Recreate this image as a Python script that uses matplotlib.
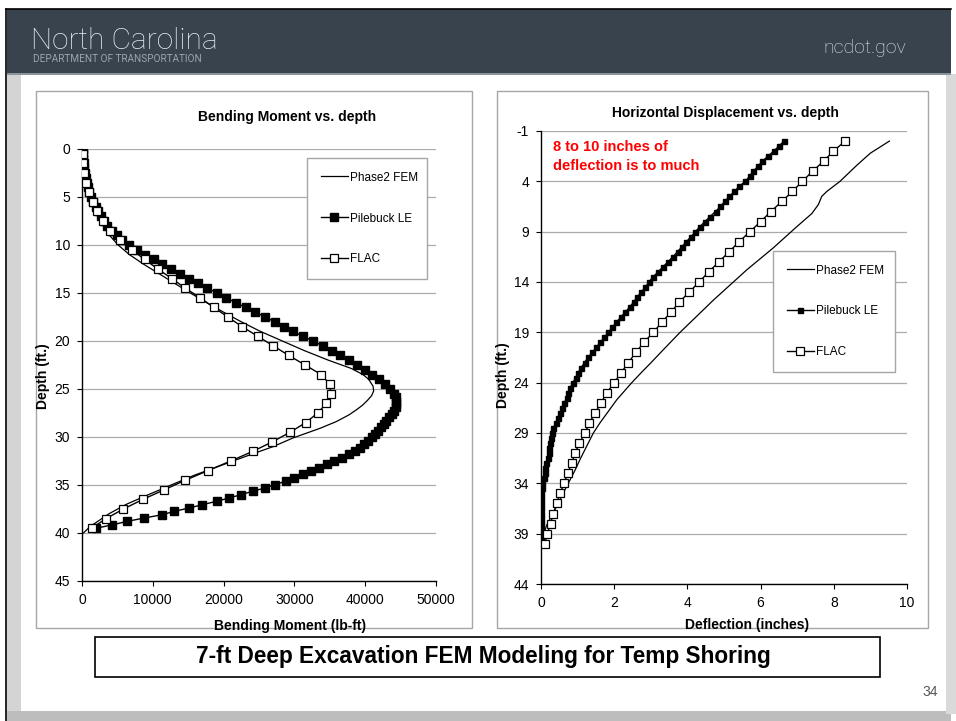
import matplotlib
matplotlib.use("Agg")
import matplotlib.pyplot as plt
from matplotlib.patches import Rectangle
from matplotlib.lines import Line2D
from matplotlib import font_manager

W, H = 956, 721

plt.rcParams["font.family"] = ["Liberation Sans", "DejaVu Sans"]
plt.rcParams["axes.unicode_minus"] = False

# ---- Bending moment vs depth (left chart) ----
PB_DEPTH_L = [0.0, 0.5, 1.0, 1.5, 2.0, 2.5, 3.0, 3.5, 4.0, 4.5, 5.0, 5.5, 6.0, 6.5, 7.0, 7.5,
              8.0, 8.5, 9.0, 9.5, 10.0, 10.5, 11.0, 11.5, 12.0, 12.5, 13.0, 13.5, 14.0, 14.5,
              15.0, 15.5, 16.0, 16.5, 17.0, 17.5, 18.0, 18.5, 19.0, 19.5, 20.0, 20.5, 21.0,
              21.5, 22.0, 22.5, 23.0, 23.5, 24.0, 24.5, 25.0, 25.5, 25.85, 26.2, 26.55, 26.9,
              27.25, 27.6, 27.95, 28.3, 28.65, 29.0, 29.35, 29.7, 30.05, 30.4, 30.75, 31.1,
              31.45, 31.8, 32.15, 32.5, 32.85, 33.2, 33.55, 33.9, 34.25, 34.6, 34.95, 35.3,
              35.65, 36.0, 36.35, 36.7, 37.05, 37.4, 37.75, 38.1, 38.45, 38.8, 39.15, 39.5]
PB_MOM_L = [150, 150, 200, 250, 300, 400, 500, 650, 800, 1000, 1300, 1600, 1950, 2300, 2650,
            3050, 3600, 4200, 4900, 5700, 6700, 7800, 8900, 10100, 11300, 12600, 13900, 15100,
            16400, 17700, 19100, 20400, 21700, 23100, 24500, 25900, 27200, 28500, 29800, 31200,
            32600, 34000, 35300, 36500, 37700, 38900, 40000, 41000, 41900, 42800, 43500, 44000,
            44300, 44400, 44400, 44300, 44100, 43800, 43400, 43000, 42600, 42200, 41800, 41400,
            40900, 40400, 39800, 39200, 38500, 37700, 36700, 35600, 34600, 33500, 32400, 31200,
            29900, 28800, 27300, 25900, 24100, 22500, 20800, 19000, 17000, 15100, 13000, 11300,
            8700, 6300, 4300, 2000]

FLAC_DEPTH_L = [0.5, 1.5, 2.5, 3.5, 4.5, 5.5, 6.5, 7.5, 8.5, 9.5, 10.5, 11.5, 12.5, 13.5,
                14.5, 15.5, 16.5, 17.5, 18.5, 19.5, 20.5, 21.5, 22.5, 23.5, 24.5, 25.5, 26.5,
                27.5, 28.5, 29.5, 30.5, 31.5, 32.5, 33.5, 34.5, 35.5, 36.5, 37.5, 38.5, 39.5]
FLAC_MOM_L = [100, 100, 280, 560, 950, 1500, 2070, 2920, 3950, 5370, 7020, 8850, 10700, 12700,
              14600, 16700, 18600, 20600, 22600, 24800, 27000, 29200, 31500, 33800, 35000,
              35150, 34500, 33300, 31600, 29400, 26900, 24100, 21000, 17800, 14600, 11600,
              8600, 5850, 3400, 1370]

PH_DEPTH_L = [0, 2, 4, 5, 6, 7, 8, 9, 10, 11, 12, 13, 14, 15, 16, 17, 18, 19, 20, 21, 22,
              22.85, 23.5, 24, 24.7, 25.2, 25.7, 26.2, 26.7, 27.2, 27.7, 28.4, 29.1, 30.1, 31,
              32, 33, 34, 35, 36, 37, 38, 38.5, 39, 39.5, 40]
PH_MOM_L = [0, 100, 400, 800, 1500, 2200, 3000, 3900, 5100, 6700, 8700, 10900, 13100, 15300,
            17600, 20000, 22500, 25200, 28300, 31400, 34800, 38000, 39700, 40500, 41100, 41200,
            40900, 40300, 39600, 38700, 37700, 35900, 33600, 29800, 27000, 23200, 19500, 15800,
            12600, 9400, 6300, 3800, 2800, 1800, 900, 200]

# ---- Horizontal displacement vs depth (right chart) ----
PB_DEPTH_R = [0.0, 0.5, 1.0, 1.5, 2.0, 2.5, 3.0, 3.5, 4.0, 4.5, 5.0, 5.5, 6.0, 6.5, 7.0, 7.5,
              8.0, 8.5, 9.0, 9.5, 10.0, 10.5, 11.0, 11.5, 12.0, 12.5, 13.0, 13.5, 14.0, 14.5,
              15.0, 15.5, 16.0, 16.5, 17.0, 17.5, 18.0, 18.5, 19.0, 19.5, 20.0, 20.5, 21.0,
              21.5, 22.0, 22.5, 23.0, 23.5, 24.0, 24.5, 25.0, 25.5, 26.0, 26.5, 27.0, 27.5,
              28.0, 28.5, 29.0, 29.5, 30.0, 30.5, 31.0, 31.5, 32.0, 32.5, 33.0, 33.5, 34.0,
              34.5, 35.0, 35.5, 36.0, 36.5, 37.0, 37.5, 38.0, 38.5, 39.0, 39.5]
PB_DEF_R = [6.64, 6.50, 6.36, 6.20, 6.05, 5.93, 5.80, 5.70, 5.58, 5.42, 5.28, 5.15, 5.02, 4.90,
            4.77, 4.62, 4.48, 4.34, 4.22, 4.10, 3.97, 3.85, 3.73, 3.60, 3.47, 3.33, 3.20, 3.06,
            2.95, 2.85, 2.74, 2.63, 2.53, 2.42, 2.30, 2.18, 2.06, 1.95, 1.84, 1.73, 1.62, 1.51,
            1.40, 1.29, 1.19, 1.10, 1.02, 0.95, 0.87, 0.80, 0.75, 0.70, 0.64, 0.58, 0.52, 0.47,
            0.40, 0.34, 0.29, 0.27, 0.25, 0.23, 0.21, 0.19, 0.15, 0.12, 0.10, 0.08, 0.03, 0.02,
            0.0, 0.0, 0.0, 0.0, 0.0, 0.0, 0.0, 0.0, 0.0, 0.0]

FLAC_DEPTH_R = [0, 1, 2, 3, 4, 5, 6, 7, 8, 9, 10, 11, 12, 13, 14, 15, 16, 17, 18, 19, 20,
                21, 22, 23, 24, 25, 26, 27, 28, 29, 30, 31, 32, 33, 34, 35, 36, 37, 38, 39, 40]
FLAC_DEF_R = [8.31, 7.99, 7.72, 7.42, 7.14, 6.87, 6.58, 6.28, 6.00, 5.71, 5.41, 5.14, 4.86,
              4.58, 4.32, 4.05, 3.78, 3.55, 3.30, 3.07, 2.81, 2.59, 2.39, 2.19, 2.00, 1.80,
              1.64, 1.48, 1.32, 1.20, 1.05, 0.93, 0.84, 0.73, 0.63, 0.52, 0.43, 0.34, 0.26,
              0.17, 0.11]

PH_DEPTH_R = [0, 1.2, 2.4, 4.0, 5.0, 5.5, 6.3, 7.2, 8.5, 10.6, 12.8, 15.8, 19.0, 21.0, 22.0,
              23.0, 24.0, 25.7, 28.0, 29.0, 30.3, 31.6, 32.7, 34.6, 36.6, 38.2, 39.9]
PH_DEF_R = [9.52, 9.00, 8.63, 8.17, 7.81, 7.67, 7.58, 7.40, 6.99, 6.35, 5.62, 4.71, 3.80,
            3.27, 3.01, 2.74, 2.48, 2.07, 1.61, 1.43, 1.25, 1.07, 0.93, 0.66, 0.38, 0.15, 0.0]

SERIES_NAMES = ["Phase2 FEM", "Pilebuck LE", "FLAC"]

GRID = "#ababab"
BOX = "#a6a6a6"
HEADER = "#38434e"


def fx(px):
    return px / W


def fy(py):
    return 1 - py / H


names = {f.name for f in font_manager.fontManager.ttflist}
narrow = "Liberation Sans Narrow" if "Liberation Sans Narrow" in names else "Liberation Sans"
thin = "Roboto" if "Roboto" in names else "DejaVu Sans"
cap_size = 18.5 if narrow == "Liberation Sans Narrow" else 16.3

fig = plt.figure(figsize=(W / 100, H / 100), dpi=100, facecolor="white")

# slide decoration in pixel coordinates
bg = fig.add_axes([0, 0, 1, 1], zorder=-5)
bg.set_xlim(0, W)
bg.set_ylim(H, 0)
bg.axis("off")
bg.add_patch(Rectangle((7, 74), 14, 640, color="#d4d4d4", lw=0))
bg.add_patch(Rectangle((7, 711), 944, 10, color="#bdbdbd", lw=0))
bg.add_patch(Rectangle((946, 74), 10, 640, color="#dadada", lw=0))
bg.add_patch(Rectangle((21, 75), 925, 636, color="white", lw=0))
bg.add_patch(Rectangle((7, 9), 944, 65, color=HEADER, lw=0))
bg.add_patch(Rectangle((7, 73), 944, 2, color="#8a949c", lw=0))
bg.plot([6.5, 6.5], [9, 721], color="black", lw=1.2)
bg.plot([6.5, 951], [9, 9], color="black", lw=1.2)
bg.add_patch(Rectangle((36, 91), 436, 537, fill=False, ec=BOX, lw=1))
bg.add_patch(Rectangle((497, 91), 431, 537, fill=False, ec=BOX, lw=1))
bg.add_patch(Rectangle((95, 637), 785, 40, fill=False, ec="black", lw=1.2))

fig.text(fx(31), fy(49), "North Carolina", fontsize=21.5, color="#e4e8eb",
         family=thin, weight="light", va="baseline")
fig.text(fx(33), fy(62), "DEPARTMENT OF TRANSPORTATION", fontsize=7.2, color="#9ba5ae",
         family=thin, va="baseline")
fig.text(fx(906), fy(53), "ncdot.gov", fontsize=14, color="#e4e8eb",
         family=thin, weight="light", va="baseline", ha="right")
fig.text(fx(483), fy(657), "7-ft Deep Excavation FEM Modeling for Temp Shoring",
         fontsize=cap_size, weight="bold", family=narrow, ha="center", va="center")
fig.text(fx(938), fy(692), "34", fontsize=10, color="#555555", ha="right", va="center")


def style_axes(ax):
    for s in ["top", "right"]:
        ax.spines[s].set_visible(False)
    for s in ["left", "bottom"]:
        ax.spines[s].set_color("black")
        ax.spines[s].set_linewidth(1)
    ax.grid(axis="y", color=GRID, lw=0.9)
    ax.set_axisbelow(True)
    ax.tick_params(direction="out", length=3.6, width=0.8, labelsize=10, pad=5)


def add_legend(ax, handles, box):
    x0, y0, x1, y1 = box
    leg = ax.legend(handles, SERIES_NAMES, loc="upper left",
                    bbox_to_anchor=(fx(x0), fy(y1), fx(x1) - fx(x0), fy(y0) - fy(y1)),
                    bbox_transform=fig.transFigure, mode="expand", borderaxespad=0,
                    fontsize=8.5, labelspacing=2.45, borderpad=1.15, handlelength=2.3,
                    handletextpad=0.2, fancybox=False, framealpha=1, edgecolor=BOX)
    leg.get_frame().set_linewidth(1)
    return leg


# ---- left chart ----
ax1 = fig.add_axes([fx(82), fy(581), fx(436) - fx(82), fy(149) - fy(581)])
style_axes(ax1)
ax1.plot(PH_MOM_L, PH_DEPTH_L, color="black", lw=0.9, zorder=3)
ax1.plot(PB_MOM_L, PB_DEPTH_L, color="black", lw=1, marker="s", ms=5.2,
         mfc="black", mec="black", zorder=4)
ax1.plot(FLAC_MOM_L, FLAC_DEPTH_L, color="black", lw=1, marker="s", ms=5.2,
         mfc="white", mec="black", mew=0.9, zorder=5)
ax1.set_xlim(0, 50000)
ax1.set_ylim(45, 0)
ax1.set_xticks([0, 10000, 20000, 30000, 40000, 50000])
ax1.set_yticks([0, 5, 10, 15, 20, 25, 30, 35, 40, 45])
ax1.set_xlabel("Bending Moment (lb-ft)", fontsize=10, weight="bold")
ax1.xaxis.set_label_coords(0.588, -0.087)
ax1.set_ylabel("Depth (ft.)", fontsize=10, weight="bold")
ax1.yaxis.set_label_coords(-0.09, 0.475)
fig.text(fx(287), fy(117), "Bending Moment vs. depth", fontsize=10, weight="bold",
         ha="center", va="center")
h1 = [Line2D([], [], color="black", lw=0.9),
      Line2D([], [], color="black", lw=1, marker="s", ms=5.2, mfc="black"),
      Line2D([], [], color="black", lw=1, marker="s", ms=5.2, mfc="white", mew=0.9)]
add_legend(ax1, h1, (307, 158, 427, 285))

# ---- right chart ----
ax2 = fig.add_axes([fx(541), fy(584), fx(907) - fx(541), fy(131) - fy(584)])
style_axes(ax2)
ax2.plot(PH_DEF_R, PH_DEPTH_R, color="black", lw=0.9, zorder=3)
ax2.plot(PB_DEF_R, PB_DEPTH_R, color="black", lw=1, marker="s", ms=3.6,
         mfc="black", mec="black", zorder=4)
ax2.plot(FLAC_DEF_R, FLAC_DEPTH_R, color="black", lw=1, marker="s", ms=5.2,
         mfc="white", mec="black", mew=0.9, zorder=5)
ax2.set_xlim(0, 10)
ax2.set_ylim(44, -1)
ax2.set_xticks([0, 2, 4, 6, 8, 10])
ax2.set_yticks([-1, 4, 9, 14, 19, 24, 29, 34, 39, 44])
ax2.set_xlabel("Deflection (inches)", fontsize=10, weight="bold")
ax2.xaxis.set_label_coords(0.563, -0.075)
ax2.set_ylabel("Depth (ft.)", fontsize=10, weight="bold")
ax2.yaxis.set_label_coords(-0.085, 0.461)
fig.text(fx(725), fy(113), "Horizontal Displacement vs. depth", fontsize=10, weight="bold",
         ha="center", va="center")
fig.text(fx(553), fy(147), "8 to 10 inches of", fontsize=10.5, weight="bold",
         color="#ff0000", va="center")
fig.text(fx(553), fy(166), "deflection is to much", fontsize=10.5, weight="bold",
         color="#ff0000", va="center")
h2 = [Line2D([], [], color="black", lw=0.9),
      Line2D([], [], color="black", lw=1, marker="s", ms=3.6, mfc="black"),
      Line2D([], [], color="black", lw=1, marker="s", ms=5.2, mfc="white", mew=0.9)]
add_legend(ax2, h2, (773, 251, 895, 381))

fig.savefig("out.png", dpi=100, facecolor="white")
